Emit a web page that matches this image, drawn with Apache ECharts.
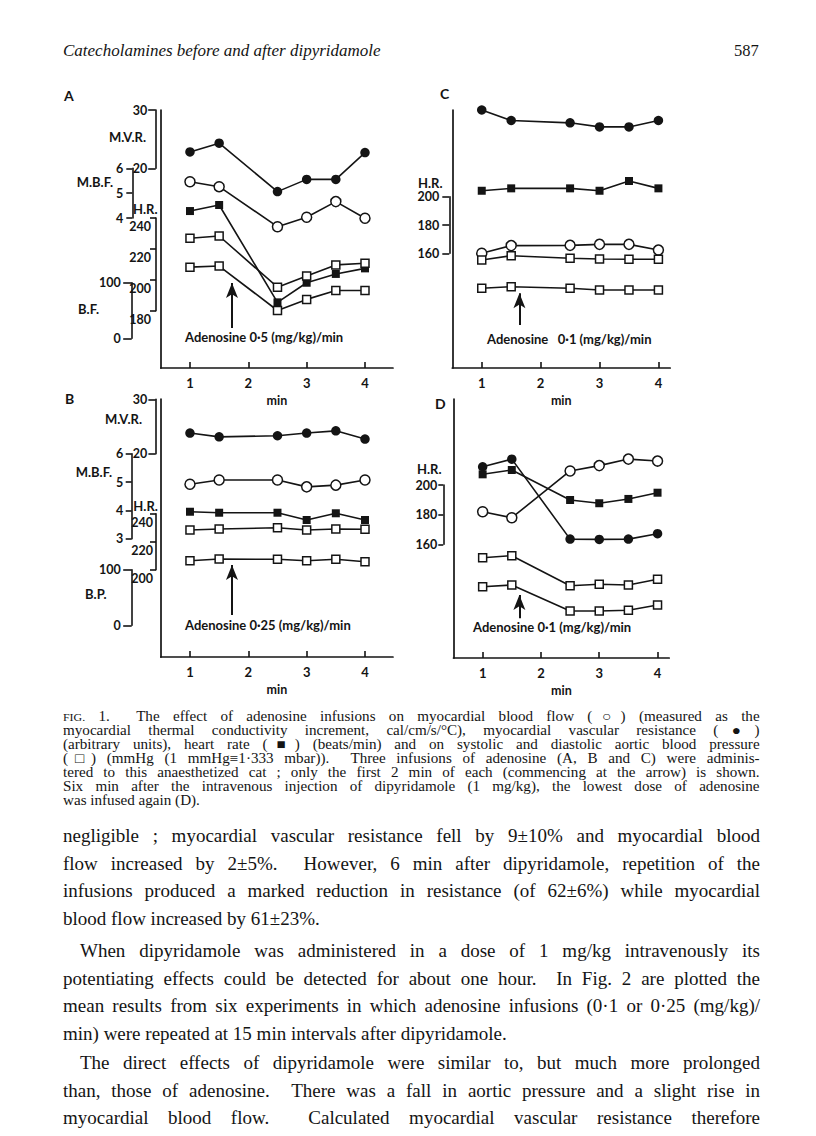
<!DOCTYPE html>
<html>
<head>
<meta charset="utf-8">
<title>Fig. 1 adenosine / dipyridamole</title>
<script src="https://cdn.jsdelivr.net/npm/echarts@6/dist/echarts.min.js"></script>
<style>
    body { margin: 0; background: #fff; }
    #page { position: relative; width: 816px; height: 1136px; overflow: hidden; background: #fff; }
    #main { position: absolute; left: 0; top: 0; width: 816px; height: 705px; z-index: 1; }
    .txt { position: absolute; left: 63px; width: 697px; color: #141414; z-index: 2;
           font-family: "Liberation Serif", "DejaVu Serif", serif; }
    .j { text-align: justify; text-align-last: justify; }
    .head { top: 41px; font-style: italic; font-size: 17px; width: auto; }
    .pno { position: absolute; left: 734px; top: 41px; font-size: 16.5px; color: #141414; z-index: 2;
           font-family: "Liberation Serif", serif; }
    .cap { top: 710px; width: 645px; font-size: 14px; line-height: 14px;
           transform: scaleX(1.08); transform-origin: 0 0; }
    .body { font-size: 19px; line-height: 27.6px; }
    .ind { padding-left: 17px; }
    .sc { font-size: 11px; }
</style>
</head>
<body>
<div id="page">
    <div class="txt head">Catecholamines before and after dipyridamole</div>
    <div class="pno">587</div>
    <div id="main"></div>

    <div class="txt cap">
        <div class="j"><span class="sc">FIG.</span> 1.&nbsp; The effect of adenosine infusions on myocardial blood flow (○) (measured as the</div>
        <div class="j">myocardial thermal conductivity increment, cal/cm/s/°C), myocardial vascular resistance (●)</div>
        <div class="j">(arbitrary units), heart rate (■) (beats/min) and on systolic and diastolic aortic blood pressure</div>
        <div class="j">(□) (mmHg (1 mmHg≡1·333 mbar)).&nbsp; Three infusions of adenosine (A, B and C) were adminis-</div>
        <div class="j">tered to this anaesthetized cat ; only the first 2 min of each (commencing at the arrow) is shown.</div>
        <div class="j">Six min after the intravenous injection of dipyridamole (1 mg/kg), the lowest dose of adenosine</div>
        <div>was infused again (D).</div>
    </div>

    <div class="txt body" style="top:822px">
        <div class="j">negligible ; myocardial vascular resistance fell by 9±10% and myocardial blood</div>
        <div class="j">flow increased by 2±5%.&nbsp; However, 6 min after dipyridamole, repetition of the</div>
        <div class="j">infusions produced a marked reduction in resistance (of 62±6%) while myocardial</div>
        <div>blood flow increased by 61±23%.</div>
    </div>
    <div class="txt body" style="top:937px">
        <div class="j ind">When dipyridamole was administered in a dose of 1 mg/kg intravenously its</div>
        <div class="j">potentiating effects could be detected for about one hour.&nbsp; In Fig. 2 are plotted the</div>
        <div class="j">mean results from six experiments in which adenosine infusions (0·1 or 0·25 (mg/kg)/</div>
        <div>min) were repeated at 15 min intervals after dipyridamole.</div>
    </div>
    <div class="txt body" style="top:1049px">
        <div class="j ind">The direct effects of dipyridamole were similar to, but much more prolonged</div>
        <div class="j">than, those of adenosine.&nbsp; There was a fall in aortic pressure and a slight rise in</div>
        <div class="j">myocardial blood flow.&nbsp; Calculated myocardial vascular resistance therefore</div>
    </div>
</div>

<script type="text/javascript">
    // time of each reading (min)
    var minutes = [1, 1.5, 2.5, 3, 3.5, 4];
    var xTicks = [1, 2, 3, 4];

    // A: adenosine 0.5 (mg/kg)/min
    var mvrA = [22.8, 24.3, 16.0, 18.1, 18.1, 22.7];
    var mbfA = [5.46, 5.26, 3.65, 4.03, 4.66, 3.99];
    var hrA  = [244.5, 248.4, 185.4, 198.1, 203.8, 207.4];
    var sysA = [180, 184, 92, 112, 132, 135];
    var diaA = [128, 130, 50, 70, 86, 86];

    // B: adenosine 0.25 (mg/kg)/min
    var mvrB = [23.8, 23.1, 23.3, 23.8, 24.2, 22.7];
    var mbfB = [4.92, 5.07, 5.07, 4.83, 4.89, 5.07];
    var hrB  = [241.4, 240.7, 240.7, 235.5, 240.3, 235.5];
    var sysB = [171.4, 173.2, 175.5, 171.4, 173.2, 172.7];
    var diaB = [116.2, 119.2, 118.7, 116.2, 118.7, 114.4];

    // C: adenosine 0.1 (mg/kg)/min
    var mvrC = [30.0, 28.2, 27.8, 27.1, 27.1, 28.2];
    var mbfC = [2.58, 2.89, 2.90, 2.94, 2.94, 2.71];
    var hrC  = [204.2, 205.9, 205.9, 204.2, 211.1, 205.9];
    var sysC = [140.8, 148.6, 143.9, 142.6, 142.1, 142.1];
    var diaC = [89.9, 92.8, 89.9, 86.9, 86.9, 86.9];

    // D: adenosine 0.1 (mg/kg)/min after dipyridamole
    var mvrD = [17.6, 19.0, 4.3, 4.25, 4.3, 5.3];
    var mbfD = [3.95, 3.74, 5.39, 5.58, 5.81, 5.74];
    var hrD  = [207.2, 210.1, 189.9, 187.7, 190.6, 194.8];
    var sysD = [121.6, 125.2, 71.2, 73.7, 72.5, 82.7];
    var diaD = [69.4, 72.5, 25.7, 25.7, 27.0, 36.5];

    // scale brackets (tick labels)
    var mvrTicks = [20, 30];
    var mbfTicksA = [4, 5, 6];
    var mbfTicksB = [3, 4, 5, 6];
    var hrTicksA = [180, 200, 220, 240];
    var hrTicksB = [200, 220, 240];
    var hrTicksCD = [160, 180, 200];
    var bpTicks = [0, 100];

    // arrows: start of infusion (min), foot and tip on the pressure scale
    var arrowA = [1.72, 18.5, 99.5];
    var arrowB = [1.72, 18.5, 108.5];
    var arrowC = [1.64, 23.9, 80.9];
    var arrowD = [1.63, 12.6, 54.5];

    var ink = '#141414';
    var lbl = { color: ink, fontFamily: 'Lato', fontWeight: 'bold', fontSize: 12.5 };

    // bracket geometry (pixel position of top and bottom tick)
    var geoA = {
        mvr: { x: 155.7, y1: 110, y2: 168.3, ticks: mvrTicks, tick: 7.5, margin: 8.5 },
        mbf: { x: 132.3, y1: 168.3, y2: 218, ticks: mbfTicksA, tick: 6, margin: 9 },
        hr:  { x: 156, y1: 218, y2: 310.7, ticks: hrTicksA, tick: 6, margin: 5, below: true },
        bp:  { x: 131.7, y1: 282.7, y2: 338.3, ticks: bpTicks, tick: 8.5, margin: 11 }
    };
    var geoB = {
        mvr: { x: 155.7, y1: 399.3, y2: 453.7, ticks: mvrTicks, tick: 7.3, margin: 8.4 },
        mbf: { x: 131.7, y1: 453.7, y2: 538.7, ticks: mbfTicksB, tick: 6, margin: 8.4 },
        hr:  { x: 156, y1: 513.7, y2: 569.7, ticks: hrTicksB, tick: 6, margin: 3, below: true },
        bp:  { x: 131.7, y1: 569.7, y2: 625.3, ticks: bpTicks, tick: 8.5, margin: 11 }
    };
    var hrGeoC = { x: 449.3, y1: 196.7, y2: 253.3, ticks: hrTicksCD, tick: 7, margin: 10 };
    var hrGeoD = { x: 443.3, y1: 485, y2: 544.3, ticks: hrTicksCD, tick: 5, margin: 6 };

    var panels = [
        { left: 160.8, top: 110, width: 232.2, height: 258, xMax: 4.48,
          d: [mvrA, mbfA, hrA, sysA, diaA], geo: geoA, drawn: ['mvr', 'mbf', 'hr', 'bp'], arrow: arrowA },
        { left: 160.8, top: 399, width: 232.2, height: 258, xMax: 4.48,
          d: [mvrB, mbfB, hrB, sysB, diaB], geo: geoB, drawn: ['mvr', 'mbf', 'hr', 'bp'], arrow: arrowB },
        { left: 452.3, top: 110, width: 217.9, height: 258, xMax: 4.2,
          d: [mvrC, mbfC, hrC, sysC, diaC], geo: { mvr: geoA.mvr, mbf: geoA.mbf, hr: hrGeoC, bp: geoA.bp },
          drawn: ['hr'], arrow: arrowC },
        { left: 453.5, top: 399, width: 215.7, height: 259, xMax: 4.2,
          d: [mvrD, mbfD, hrD, sysD, diaD], geo: { mvr: geoB.mvr, mbf: geoB.mbf, hr: hrGeoD, bp: geoB.bp },
          drawn: ['hr'], arrow: arrowD }
    ];

    // value range of a full-height axis that matches a bracket
    function span(g, top, bottom) {
        var hi = g.ticks[g.ticks.length - 1], lo = g.ticks[0];
        var k = (hi - lo) / (g.y2 - g.y1);
        return { min: lo - (bottom - g.y2) * k, max: hi + (g.y1 - top) * k };
    }

    var grid = [], xAxis = [], yAxis = [], series = [];

    panels.forEach(function (p) {
        var gi = grid.length;
        grid.push({ left: p.left, top: p.top, width: p.width, height: p.height });
        var xi = xAxis.length;
        xAxis.push({
            gridIndex: gi, type: 'value', min: 0.5, max: p.xMax,
            axisLine: { show: true, onZero: false, lineStyle: { color: ink, width: 1.7 } },
            axisTick: { show: true, inside: true, length: 6, customValues: xTicks, lineStyle: { color: ink, width: 1.6 } },
            axisLabel: Object.assign({ customValues: xTicks, margin: 8 }, lbl, { fontSize: 13 }),
            splitLine: { show: false },
            name: 'min', nameLocation: 'middle', nameGap: 26,
            nameTextStyle: Object.assign({}, lbl, { fontSize: 12.5 })
        });
        var yi = {};
        ['mvr', 'mbf', 'hr', 'bp'].forEach(function (q, j) {
            var r = span(p.geo[q], p.top, p.top + p.height);
            yi[q] = yAxis.length;
            yAxis.push({
                gridIndex: gi, type: 'value', min: r.min, max: r.max, show: j === 0,
                axisLine: { show: true, onZero: false, lineStyle: { color: ink, width: 1.7 } },
                axisTick: { show: false }, axisLabel: { show: false }, splitLine: { show: false }
            });
        });

        function trace(vals, axis, sym, size, filled) {
            return {
                type: 'line', xAxisIndex: xi, yAxisIndex: yi[axis], silent: true, clip: false,
                data: minutes.map(function (m, k) { return [m, vals[k]]; }),
                symbol: sym, symbolSize: size, showSymbol: true,
                lineStyle: { color: ink, width: 1.6 },
                itemStyle: { color: filled ? ink : '#fff', borderColor: ink, borderWidth: filled ? 0 : 1.5 },
                z: filled ? 2 : 3
            };
        }
        series.push(trace(p.d[0], 'mvr', 'circle', 9.5, true));
        series.push(trace(p.d[2], 'hr', 'rect', 8, true));
        series.push(trace(p.d[1], 'mbf', 'circle', 10, false));
        series.push(trace(p.d[3], 'bp', 'rect', 8, false));
        var dia = trace(p.d[4], 'bp', 'rect', 8, false);
        dia.markLine = {
            silent: true, animation: false, symbol: ['none', 'arrow'], symbolSize: [9, 15],
            lineStyle: { color: ink, width: 2, type: 'solid' }, label: { show: false },
            data: [[{ coord: [p.arrow[0], p.arrow[1]] }, { coord: [p.arrow[0], p.arrow[2]] }]]
        };
        series.push(dia);

        // scale brackets
        p.drawn.forEach(function (q) {
            var g = p.geo[q];
            var bi = grid.length;
            grid.push({ left: g.x, top: g.y1, width: 10, height: g.y2 - g.y1 });
            xAxis.push({ gridIndex: bi, type: 'value', show: false });
            yAxis.push({
                gridIndex: bi, type: 'value', position: 'left',
                min: g.ticks[0], max: g.ticks[g.ticks.length - 1],
                axisLine: { show: true, onZero: false, lineStyle: { color: ink, width: 1.6 } },
                axisTick: { show: true, length: g.tick, customValues: g.ticks, lineStyle: { color: ink, width: 1.6 } },
                axisLabel: Object.assign({ customValues: g.ticks, margin: g.margin,
                    verticalAlign: g.below ? 'top' : 'middle', padding: g.below ? [2, 0, 0, 0] : 0 }, lbl),
                splitLine: { show: false }
            });
        });
    });

    function txt(s, x, y, align, size) {
        return { type: 'text', x: x, y: y, silent: true,
                 style: { text: s, fill: ink, align: align || 'left', verticalAlign: 'middle',
                          font: 'bold ' + (size || 13) + 'px Lato' } };
    }

    var graphic = [
        txt('A', 64, 95, 'left', 14), txt('B', 65, 398, 'left', 14),
        txt('C', 440, 93, 'left', 14), txt('D', 435, 403, 'left', 14),
        txt('M.V.R.', 146, 137, 'right'), txt('M.B.F.', 113, 182, 'right'),
        txt('H.R.', 133, 209), txt('B.F.', 78, 309),
        txt('M.V.R.', 142, 419, 'right'), txt('M.B.F.', 112, 472, 'right'),
        txt('H.R.', 133.3, 505.5), txt('B.P.', 85, 594),
        txt('H.R.', 418, 183), txt('H.R.', 417, 468.5),
        txt('Adenosine 0·5 (mg/kg)/min', 185, 337),
        txt('Adenosine 0·25 (mg/kg)/min', 185, 625),
        txt('Adenosine   0·1 (mg/kg)/min', 487, 338.5),
        txt('Adenosine 0·1 (mg/kg)/min', 473, 627)
    ];

    var chart = echarts.init(document.getElementById('main'), null, { renderer: 'svg' });
    chart.setOption({
        animation: false,
        backgroundColor: 'transparent',
        grid: grid,
        xAxis: xAxis,
        yAxis: yAxis,
        series: series,
        graphic: graphic
    });
</script>
</body>
</html>
